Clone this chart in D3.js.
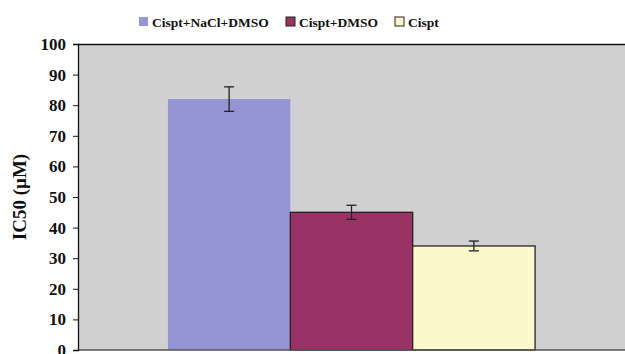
<!DOCTYPE html>
<html><head><meta charset="utf-8">
<script src="https://cdn.jsdelivr.net/npm/d3@7"></script>
<style>body{margin:0;background:#fff}svg{display:block}</style>
</head><body>
<script>
const categories = [""];
const series = ["Cispt+NaCl+DMSO", "Cispt+DMSO", "Cispt"];
const values = [82, 45, 34];
const errors = [4, 2.3, 1.6];
const yTicks = [0,10,20,30,40,50,60,70,80,90,100];
const colors = ["#9595d4", "#993366", "#fbf9cc"];
const strokes = ["none", "#222", "#222"];

const W = 625, H = 354;
const m = {left:78, right:0, top:44, bottom:4};
const svg = d3.select("body").append("svg").attr("width", W).attr("height", H);
const font = "'Liberation Serif', 'Times New Roman', serif";

const y = d3.scaleLinear().domain([0,100]).range([H-m.bottom, m.top]);
const x0 = d3.scaleBand().domain(categories).range([m.left, W-m.right]).paddingInner(0).paddingOuter(0.245);
const x1 = d3.scaleBand().domain(series).range([0, x0.bandwidth()]).padding(0);

// plot background
svg.append("rect").attr("x", m.left).attr("y", m.top).attr("width", W-m.right-m.left).attr("height", H-m.bottom-m.top).attr("fill", "#d0d0d0");
svg.append("line").attr("x1", m.left).attr("x2", W).attr("y1", m.top+0.5).attr("y2", m.top+0.5).attr("stroke", "#111").attr("stroke-width", 1.5);

const g = svg.append("g").attr("transform", `translate(${x0(categories[0])},0)`);
series.forEach((s,i) => {
  g.append("rect").attr("x", x1(s)).attr("y", y(values[i])).attr("width", x1.bandwidth()).attr("height", y(0)-y(values[i]))
    .attr("fill", colors[i]).attr("stroke", strokes[i]).attr("stroke-width", strokes[i]==="none"?0:1.3);
});
series.forEach((s,i) => {
  const cx = x1(s) + x1.bandwidth()/2;
  const e = g.append("g").attr("stroke", "#222").attr("stroke-width", 1.3);
  e.append("line").attr("x1", cx).attr("x2", cx).attr("y1", y(values[i]+errors[i])).attr("y2", y(values[i]-errors[i]));
  e.append("line").attr("x1", cx-5).attr("x2", cx+5).attr("y1", y(values[i]+errors[i])).attr("y2", y(values[i]+errors[i]));
  e.append("line").attr("x1", cx-5).attr("x2", cx+5).attr("y1", y(values[i]-errors[i])).attr("y2", y(values[i]-errors[i]));
});

// bottom axis line
svg.append("line").attr("x1", m.left).attr("x2", W).attr("y1", y(0)).attr("y2", y(0)).attr("stroke", "#555").attr("stroke-width", 1.5);

// y axis
const ya = svg.append("g").attr("transform", `translate(${m.left},0)`)
  .call(d3.axisLeft(y).tickValues(yTicks).tickSize(5).tickPadding(7).tickFormat(d3.format("d")));
ya.select(".domain").attr("stroke", "#111").attr("stroke-width", 1.3);
ya.selectAll(".tick line").attr("stroke", "#111");
ya.selectAll("text").attr("font-family", font).attr("font-weight", "bold").attr("font-size", 17).attr("fill", "#111");

svg.append("text").attr("transform", `translate(26,${(m.top + y(0))/2}) rotate(-90)`)
  .attr("text-anchor", "middle").attr("font-family", font).attr("font-weight", "bold").attr("font-size", 19).attr("fill", "#111").text("IC50 (µM)");

// legend
const legX = [139, 286, 395];
series.forEach((s,i) => {
  const lg = svg.append("g").attr("transform", `translate(${legX[i]},17)`);
  lg.append("rect").attr("x", 0).attr("y", 0).attr("width", 9).attr("height", 9)
    .attr("fill", colors[i]).attr("stroke", strokes[i]==="none"?"none":"#222").attr("stroke-width", 1);
  lg.append("text").attr("x", 13).attr("y", 9.5).attr("font-family", font).attr("font-weight", "bold").attr("font-size", 13.5).attr("fill", "#111").text(s);
});
</script>
</body></html>
